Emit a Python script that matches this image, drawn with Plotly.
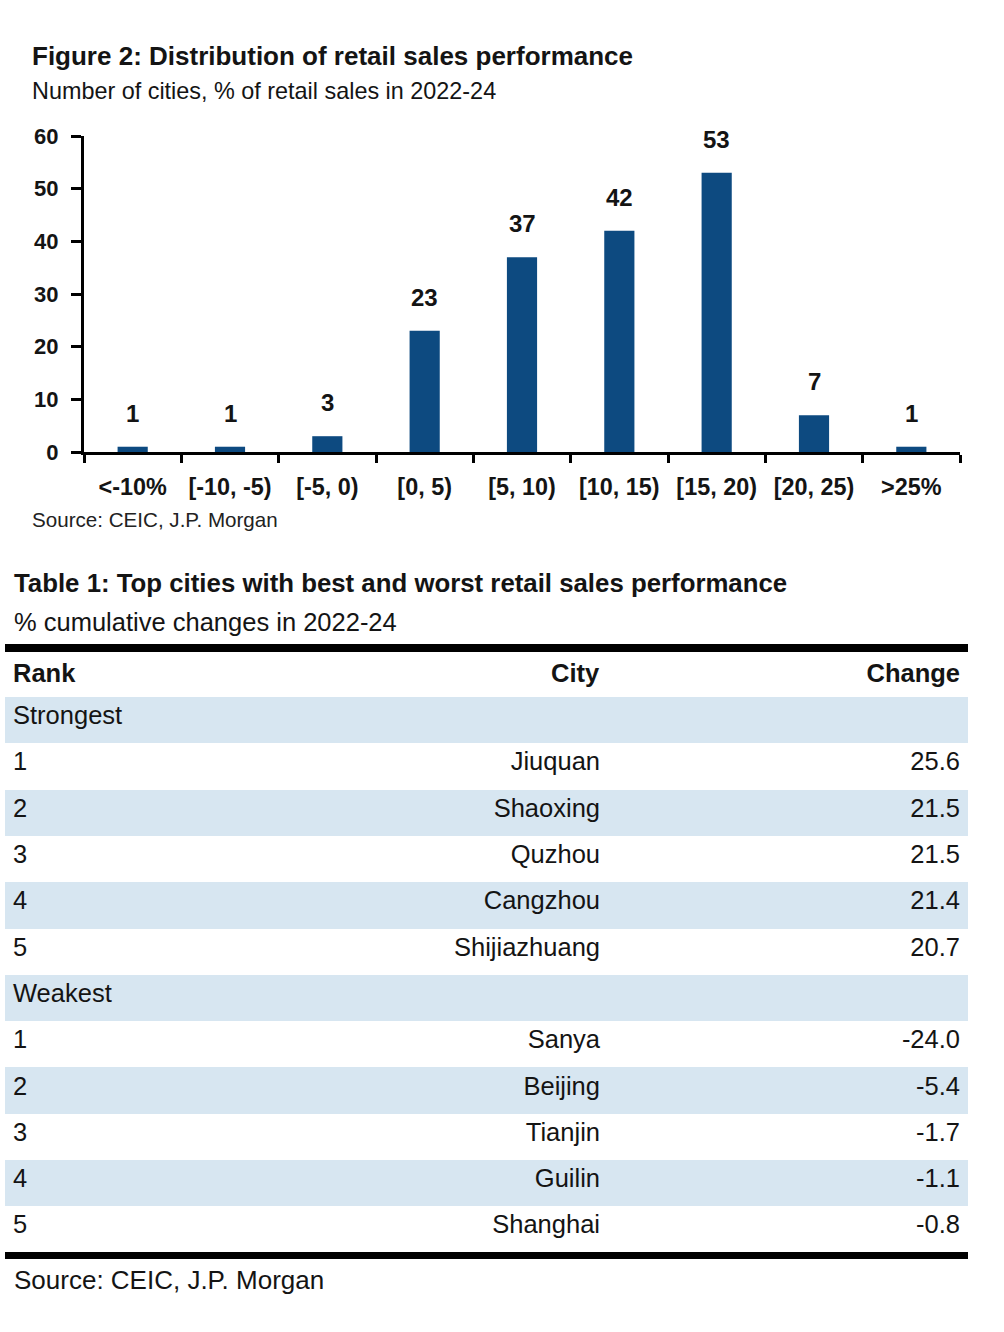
import plotly.graph_objects as go

W, H = 1004, 1332
FONT = "Liberation Sans, Arial, sans-serif"

# ---- Figure 2 data ----
bins = ["<-10%", "[-10, -5)", "[-5, 0)", "[0, 5)", "[5, 10)", "[10, 15)", "[15, 20)", "[20, 25)", ">25%"]
counts = [1, 1, 3, 23, 37, 42, 53, 7, 1]

# ---- Table 1 data ----
strongest_cities = ["Jiuquan", "Shaoxing", "Quzhou", "Cangzhou", "Shijiazhuang"]
strongest_changes = [25.6, 21.5, 21.5, 21.4, 20.7]
weakest_cities = ["Sanya", "Beijing", "Tianjin", "Guilin", "Shanghai"]
weakest_changes = [-24.0, -5.4, -1.7, -1.1, -0.8]
header = ["Rank", "City", "Change"]

BAR = "#0d4a80"
BLUE = "#d7e6f1"
INK = "#141414"


def py(y):
    return 1 - y / H


def px(x):
    return x / W


fig = go.Figure()

fig.add_trace(go.Bar(x=bins, y=counts, marker=dict(color=BAR, line=dict(width=0)),
                     width=0.31, showlegend=False, hoverinfo="skip"))

ann = []
for b, c in zip(bins, counts):
    ann.append(dict(x=b, y=c, xref="x", yref="y", text=f"<b>{c}</b>", showarrow=False,
                    yanchor="bottom", yshift=18, font=dict(family=FONT, size=24, color=INK)))

# table rows
ranks, cities, changes, fills = [], [], [], []
for label, cs, vs in (("Strongest", strongest_cities, strongest_changes),
                      ("Weakest", weakest_cities, weakest_changes)):
    ranks.append(label); cities.append(""); changes.append(""); fills.append(BLUE)
    for i, (c, v) in enumerate(zip(cs, vs)):
        ranks.append(str(i + 1)); cities.append(c); changes.append(f"{v:.1f}")
        fills.append(BLUE if i % 2 == 1 else "white")

fig.add_trace(go.Table(
    domain=dict(x=[px(5), px(968)], y=[py(1257), py(651)]),
    columnwidth=[295, 308, 360],
    header=dict(values=[f"<b>{h}</b>" for h in header], align=["left", "right", "right"],
                fill_color="white", line=dict(width=0, color="white"), height=46,
                font=dict(family=FONT, size=25.5, color=INK)),
    cells=dict(values=[ranks, cities, changes], align=["left", "right", "right"],
               fill_color=[fills, fills, fills], line=dict(width=0, color="white"), height=46.3,
               font=dict(family=FONT, size=25.5, color=INK)),
))

ann += [
    dict(x=px(30), y=py(56), xref="paper", yref="paper", xanchor="left", yanchor="middle",
         text="<b>Figure 2: Distribution of retail sales performance</b>", showarrow=False,
         font=dict(family=FONT, size=26, color=INK)),
    dict(x=px(30), y=py(91), xref="paper", yref="paper", xanchor="left", yanchor="middle",
         text="Number of cities, % of retail sales in 2022-24", showarrow=False,
         font=dict(family=FONT, size=23.4, color=INK)),
    dict(x=px(30), y=py(519), xref="paper", yref="paper", xanchor="left", yanchor="middle",
         text="Source: CEIC, J.P. Morgan", showarrow=False,
         font=dict(family=FONT, size=20.6, color="#222")),
    dict(x=px(12), y=py(583), xref="paper", yref="paper", xanchor="left", yanchor="middle",
         text="<b>Table 1: Top cities with best and worst retail sales performance</b>", showarrow=False,
         font=dict(family=FONT, size=25.8, color=INK)),
    dict(x=px(12), y=py(622), xref="paper", yref="paper", xanchor="left", yanchor="middle",
         text="% cumulative changes in 2022-24", showarrow=False,
         font=dict(family=FONT, size=25.5, color=INK)),
    dict(x=px(12), y=py(1280), xref="paper", yref="paper", xanchor="left", yanchor="middle",
         text="Source: CEIC, J.P. Morgan", showarrow=False,
         font=dict(family=FONT, size=26, color=INK)),
]

shapes = [
    dict(type="rect", xref="paper", yref="paper", x0=px(5), x1=px(968), y0=py(652), y1=py(644),
         fillcolor="black", line=dict(width=0)),
    dict(type="rect", xref="paper", yref="paper", x0=px(5), x1=px(968), y0=py(1259), y1=py(1252),
         fillcolor="black", line=dict(width=0)),
    dict(type="rect", xref="paper", yref="paper", x0=0, x1=1, y0=0, y1=py(1259),
         fillcolor="white", line=dict(width=0)),
]

fig.update_layout(
    width=W, height=H, autosize=False,
    margin=dict(l=0, r=0, t=0, b=0, pad=0, autoexpand=False),
    paper_bgcolor="white", plot_bgcolor="white",
    annotations=ann, shapes=shapes, showlegend=False,
    font=dict(family=FONT, color=INK),
    xaxis=dict(domain=[px(84), px(960)], showline=True, linewidth=3, linecolor="black",
               ticks="outside", tickson="boundaries", ticklen=8, tickwidth=3, tickcolor="black",
               showgrid=False, zeroline=False, ticklabelstandoff=12, automargin=False,
               tickfont=dict(family=FONT, size=23.4, color=INK, weight="bold")),
    yaxis=dict(domain=[py(452), py(136)], range=[0, 60], dtick=10, showline=True, linewidth=3,
               linecolor="black", ticks="outside", ticklen=10, tickwidth=3, tickcolor="black",
               showgrid=False, zeroline=False, ticklabelstandoff=8, automargin=False,
               tickfont=dict(family=FONT, size=22, color=INK, weight="bold")),
)

fig.write_html("out.html", config={"displayModeBar": False},
               post_script="document.body.style.margin='0';")
